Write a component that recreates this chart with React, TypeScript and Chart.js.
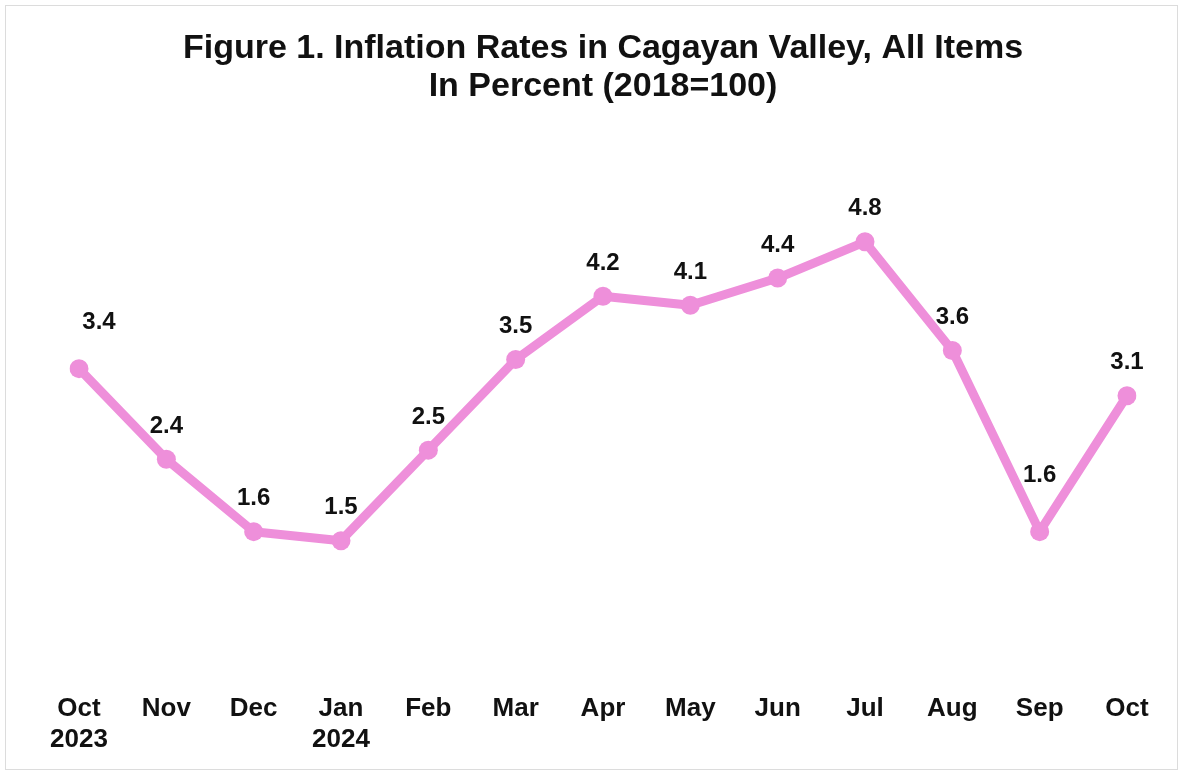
import React, { useEffect, useRef } from "react";
import { Chart, registerables } from "chart.js";

Chart.register(...registerables);

const months: string[][] = [
  ["Oct", "2023"], ["Nov"], ["Dec"], ["Jan", "2024"], ["Feb"], ["Mar"], ["Apr"],
  ["May"], ["Jun"], ["Jul"], ["Aug"], ["Sep"], ["Oct"],
];
const inflation: number[] = [3.4, 2.4, 1.6, 1.5, 2.5, 3.5, 4.2, 4.1, 4.4, 4.8, 3.6, 1.6, 3.1];
const titleLines: string[] = [
  "Figure 1. Inflation Rates in Cagayan Valley, All Items",
  "In Percent (2018=100)",
];

const PINK = "#EE8FDA";

const valueLabels = {
  id: "valueLabels",
  afterDatasetsDraw(chart: any) {
    const { ctx } = chart;
    const meta = chart.getDatasetMeta(0);
    const ds = chart.data.datasets[0];
    ctx.save();
    ctx.font = "bold 24px 'Liberation Sans', Arial, sans-serif";
    ctx.fillStyle = "#111";
    ctx.textAlign = "center";
    ctx.textBaseline = "middle";
    meta.data.forEach((pt: any, i: number) => {
      let dx = 0;
      let dy = -33;
      if (i === 0) { dx = 20; dy = -46; }
      if (i === meta.data.length - 2) { dy = -56; }
      ctx.fillText(ds.data[i].toFixed(1), pt.x + dx, pt.y + dy);
    });
    ctx.restore();
  },
};

const frame = {
  id: "frame",
  beforeDraw(chart: any) {
    const { ctx, width, height } = chart;
    ctx.save();
    ctx.fillStyle = "#ffffff";
    ctx.fillRect(0, 0, width, height);
    ctx.strokeStyle = "#dcdcdc";
    ctx.lineWidth = 1;
    ctx.strokeRect(5.5, 5.5, width - 11, height - 11);
    ctx.restore();
  },
};

export default function App() {
  const ref = useRef<HTMLCanvasElement | null>(null);
  useEffect(() => {
    if (!ref.current) return;
    const chart = new Chart(ref.current, {
      type: "line",
      data: {
        labels: months,
        datasets: [
          {
            data: inflation,
            borderColor: PINK,
            backgroundColor: PINK,
            borderWidth: 9,
            pointRadius: 9.5,
            pointBorderWidth: 0,
            pointBackgroundColor: PINK,
            tension: 0,
            borderCapStyle: "round",
            borderJoinStyle: "round",
          },
        ],
      },
      options: {
        animation: false,
        responsive: false,
        layout: { padding: { left: 79, right: 56, top: 0, bottom: 11 } },
        plugins: {
          legend: { display: false },
          tooltip: { enabled: false },
          title: {
            display: true,
            text: titleLines,
            color: "#111",
            font: { family: "'Liberation Sans', Arial, sans-serif", size: 34, weight: "bold", lineHeight: 1.12 },
            padding: { top: 30, bottom: 27 },
          },
        },
        scales: {
          x: {
            offset: false,
            grid: { display: false },
            border: { display: false },
            ticks: {
              color: "#111",
              font: { family: "'Liberation Sans', Arial, sans-serif", size: 26, weight: "bold", lineHeight: 1.22 },
              padding: 8,
              maxRotation: 0,
              autoSkip: false,
            },
          },
          y: {
            display: false,
            min: 0,
            max: 6,
          },
        },
      },
      plugins: [frame, valueLabels],
    });
    return () => chart.destroy();
  }, []);
  return (
    <div style={{ position: "fixed", left: 0, top: 0, width: 1183, height: 775 }}>
      <canvas ref={ref} width={1183} height={775} style={{ display: "block" }} />
    </div>
  );
}
